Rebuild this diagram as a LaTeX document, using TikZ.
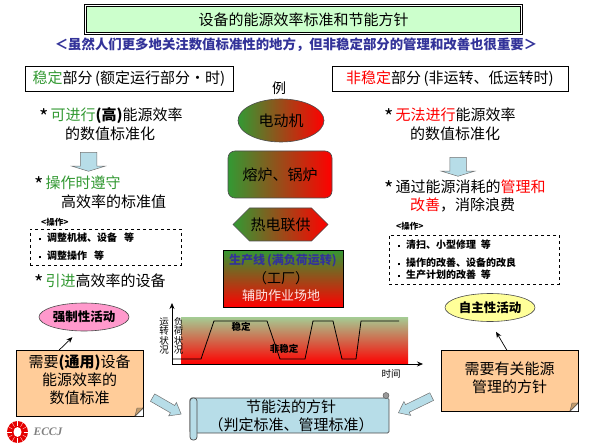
\documentclass[tikz,border=0pt]{standalone}
\usepackage{fontspec}
\setmainfont{Noto Sans CJK SC}
\newfontfamily\logofont{Liberation Serif}
\usetikzlibrary{
	arrows.meta,
	calc,
	shapes.geometric,
	shapes.arrows,
	shapes.symbols
}
\definecolor{titlegreen}{HTML}{CCFFCC}
\definecolor{subnavy}{HTML}{333399}
\definecolor{goodgreen}{HTML}{339933}
\definecolor{badred}{HTML}{FF0000}
\definecolor{notefill}{HTML}{FFCC99}
\definecolor{foldtan}{HTML}{C09A6B}
\definecolor{paleblue}{HTML}{B7DDE8}
\definecolor{chartgreen}{HTML}{A4CC94}
\definecolor{ovalpink}{HTML}{FF99CC}
\definecolor{ovalyellow}{HTML}{FFFF99}
\newcommand{\starmark}{\makebox[11.5pt][l]{\raisebox{-4pt}{\fontsize{20}{20}\selectfont *}}}
\tikzset{
	sizebox/.style={inner sep=0pt, outer sep=0pt, align=center},
	partbox/.style={sizebox, draw, line width=0.8pt, minimum height=25pt, font=\fontsize{15}{17}\selectfont},
	bodytext/.style={inner sep=0pt, anchor=west, font=\fontsize{15}{18}\selectfont},
	smallbold/.style={inner sep=0pt, anchor=west, font=\fontsize{10}{11}\selectfont\bfseries},
	opbox/.style={sizebox, draw, dashed, line width=0.6pt},
	examplebox/.style={sizebox, draw=black!70, line width=0.6pt, left color=goodgreen, right color=badred, font=\fontsize{15}{17}\selectfont},
	actoval/.style={sizebox, ellipse, draw=black!70, line width=0.6pt, font=\fontsize{12.5}{14}\selectfont\bfseries},
	notebox/.style={sizebox, draw, line width=0.8pt, fill=notefill},
	notetext/.style={sizebox, font=\fontsize{15}{18}\selectfont},
	blockarrow/.style={single arrow, draw=black!55, fill=paleblue, line width=0.5pt, outer sep=0pt, inner xsep=0pt, minimum width=0pt, single arrow head indent=0pt},
	linkarrow/.style={-{Stealth[length=6pt,width=5pt]}, line width=0.7pt},
	charttext/.style={sizebox, font=\fontsize{9.5}{9.5}\selectfont}
}
\begin{document}
\begin{tikzpicture}[x=1pt, y=-1pt]
	\useasboundingbox (0,0) rectangle (599,446);
	% header
	\node[sizebox, draw, double, double distance=1pt, line width=0.7pt, fill=titlegreen, minimum width=436pt, minimum height=28pt, font=\fontsize{15}{17}\selectfont] (title) at (303.5,19.5) {设备的能源效率标准和节能方针};
	\node[sizebox, text=subnavy, font=\fontsize{13.4}{15}\selectfont\bfseries] (subtitle) at (296,45) {＜虽然人们更多地关注数值标准性的地方，但非稳定部分的管理和改善也很重要＞};
	\node[partbox, minimum width=208pt] (stablepart) at (129,78.5) {\textcolor{goodgreen}{稳定}部分\,(额定运行部分・时)};
	\node[partbox, minimum width=236pt] (unstablepart) at (450,78.5) {\textcolor{badred}{非稳定}部分\,(非运转、低运转时)};
	\node[sizebox, font=\fontsize{14}{17}\selectfont] (example) at (279,88) {例};
	% left and right columns
	\foreach \n/\x/\y/\t in {
		stablea/39/116/{\starmark\textcolor{goodgreen}{可进行}\textbf{(高)}能源效率},
		stableb/65/134/{的数值标准化},
		stablec/34/184/{\starmark\textcolor{goodgreen}{操作时遵守}},
		stabled/61/202/{高效率的标准值},
		stablee/34/282/{\starmark\textcolor{goodgreen}{引进}高效率的设备},
		unstablea/384/116/{\starmark\textcolor{badred}{无法进行}能源效率},
		unstableb/410/134/{的数值标准化},
		unstablec/384/188/{\starmark 通过能源消耗的\textcolor{badred}{管理和}},
		unstabled/410/205/{\textcolor{badred}{改善}，消除浪费}}
		\node[bodytext] (\n) at (\x,\y) {\t};
	\node[blockarrow, rotate=-90, minimum height=19pt, inner ysep=8pt, single arrow head extend=8.5pt, single arrow tip angle=146] (stabledown) at (88.5,160.5) {};
	\node[blockarrow, rotate=-90, minimum height=19pt, inner ysep=8pt, single arrow head extend=8.5pt, single arrow tip angle=146] (unstabledown) at (458,165.5) {};
	% operations
	\node[opbox, minimum width=151pt, minimum height=36pt] (stableops) at (105.5,247) {};
	\node[opbox, minimum width=170pt, minimum height=49pt] (unstableops) at (474,259.5) {};
	\foreach \n/\x/\y/\t in {
		stableopt/41/222/{\fontsize{8.5}{10}\selectfont <操作>},
		unstableopt/396/226/{\fontsize{8.5}{10}\selectfont <操作>}}
		\node[smallbold] (\n) at (\x,\y) {\t};
	\foreach \n/\x/\y/\t in {
		stableopa/39/238/{调整机械、设备\ \ \ 等},
		stableopb/39/256/{调整操作\ \ \ 等},
		unstableopa/398/245/{清扫、小型修理\ \ 等},
		unstableopb/398/263/{操作的改善、设备的改良},
		unstableopc/398/275/{生产计划的改善\ \ 等}}
		\node[smallbold] (\n) at (\x,\y) {\rule[1.5pt]{2pt}{2pt}\hspace{6pt}\t};
	% examples in the middle
	\node[examplebox, ellipse, minimum width=86pt, minimum height=43pt] (motor) at (281,120.5) {电动机};
	\node[examplebox, rounded corners=7pt, minimum width=104pt, minimum height=47pt] (furnace) at (280,174.5) {熔炉、锅炉};
	\node[examplebox, signal, signal to=west and east, minimum width=95pt, minimum height=33pt] (chp) at (280.5,224.5) {热电联供};
	\node[sizebox, draw, line width=0.8pt, top color=goodgreen, bottom color=badred, minimum width=120pt, minimum height=57pt] (plant) at (283,278.5) {};
	\node[sizebox, text=subnavy, font=\fontsize{12}{14}\selectfont\bfseries] (planta) at (283,261) {生产线\,(满负荷运转)};
	\node[sizebox, font=\fontsize{14}{17}\selectfont] (plantb) at (281,278) {（工厂）};
	\node[sizebox, text=red!10, font=\fontsize{13}{15}\selectfont] (plantc) at (281,296) {辅助作业场地};
	% load chart
	\fill[top color=chartgreen, bottom color=badred] (181,317) rectangle (408,364);
	\coordinate (origin) at (172,364);
	\coordinate (ytip) at (172,303);
	\coordinate (xtip) at (423,364);
	\draw[linkarrow] (origin) -- (ytip);
	\draw[linkarrow] (origin) -- (xtip);
	\draw[line width=0.8pt] (173,359) -- (201,359) -- (214,321) -- (267,321) -- (280,359) -- (305,359) -- (313,321) -- (333,321) -- (342,359) -- (356,359) -- (361,321) -- (399,321);
	\node[charttext] (runstate) at (164,336) {运\\转\\状\\况};
	\node[charttext] (loadstate) at (178.5,336) {负\\荷\\状\\况};
	\node[charttext, font=\fontsize{9.5}{9.5}\selectfont\bfseries] (stablemark) at (241,327) {稳定};
	\node[charttext, font=\fontsize{9.5}{9.5}\selectfont\bfseries] (unstablemark) at (284,349) {非稳定};
	\node[sizebox, font=\fontsize{9.5}{11}\selectfont] (timelabel) at (391,374) {时间};
	% activities and notes
	\node[actoval, fill=ovalpink, minimum width=90pt, minimum height=28pt] (forced) at (84,317) {强制性活动};
	\node[actoval, fill=ovalyellow, minimum width=90pt, minimum height=28pt] (voluntary) at (490,307.5) {自主性活动};
	\node[notebox, minimum width=127pt, minimum height=66pt] (noteleft) at (79.5,383) {};
	\node[notebox, minimum width=137pt, minimum height=61pt] (noteright) at (509.5,380.5) {};
	\node[notetext] (noteleftt) at (79.5,380) {需要\textbf{(通用)}设备\\能源效率的\\数值标准};
	\node[notetext] (noterightt) at (509.5,377.5) {需要有关能源\\管理的方针};
	\foreach \n in {noteleft,noteright}{
		\fill[white] ($(\n.south east)+(-8,0)$) -- (\n.south east) -- ($(\n.south east)+(0,-8)$) -- cycle;
		\draw[line width=0.8pt] ($(\n.south east)+(-8,0)$) -- ($(\n.south east)+(0,-8)$);
		\fill[foldtan, draw=black!70, line width=0.3pt] ($(\n.south east)+(-8,0)$) -- ($(\n.south east)+(0,-8)$) -- ($(\n.south east)+(-6,-8)$) -- cycle;
	}
	\draw[linkarrow, shorten >=9pt] ($(noteleft.north west)!0.34!(noteleft.north east)$) -- (forced.-110);
	\draw[linkarrow, shorten >=12pt] ($(noteright.north west)!0.48!(noteright.north east)$) -- (voluntary.south);
	% scroll with the law
	\node[sizebox, draw=black!70, line width=0.7pt, fill=paleblue, rounded corners=1.5pt, minimum width=199pt, minimum height=35pt] (lawscroll) at (289.5,415.5) {};
	\node[sizebox, draw=black!70, line width=0.7pt, fill=paleblue, rounded corners=3pt, minimum width=7pt, minimum height=42pt] (scrollroll) at (193.5,419) {};
	\node[sizebox, circle, draw=black!70, fill=black!40, line width=0.4pt, minimum size=6pt] (scrollcurl) at (386,395.5) {};
	\node[sizebox, font=\fontsize{15}{18}\selectfont] (lawtext) at (291,416) {节能法的方针\\（判定标准、管理标准）};
	\node[blockarrow, rotate=-30, minimum height=33pt, inner ysep=4pt, single arrow head extend=3.5pt, single arrow tip angle=76] (leftpush) at (164.5,404.5) {};
	\node[blockarrow, rotate=206, minimum height=37pt, inner ysep=4pt, single arrow head extend=3.5pt, single arrow tip angle=76] (rightpush) at (417.5,403.5) {};
	% logo
	\node[sizebox, ellipse, fill=red!90!black, minimum width=21pt, minimum height=22pt] (logoring) at (17.5,432) {};
	\foreach \a in {0,30,...,330}
		\draw[white, line width=0.3pt] (logoring.center) ++(\a:6pt) -- ++(\a:5pt);
	\node[sizebox, ellipse, fill=white, minimum width=8pt, minimum height=10pt] (logohole) at (17.5,432) {};
	\node[sizebox, text=black!50, font=\logofont\fontsize{11.5}{14}\selectfont\bfseries\itshape] (logotext) at (48,432) {ECCJ};
\end{tikzpicture}
\end{document}
